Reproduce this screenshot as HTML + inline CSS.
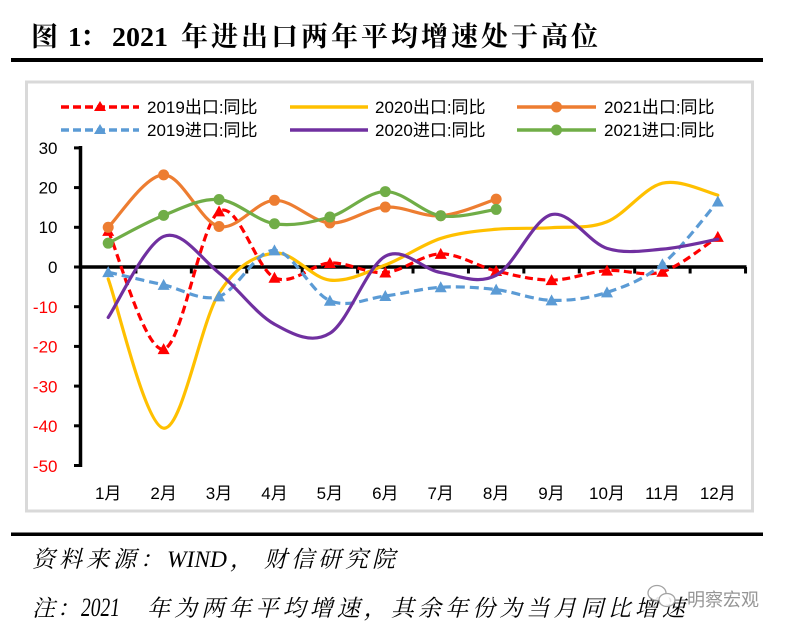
<!DOCTYPE html>
<html>
<head>
<meta charset="utf-8">
<style>
  html, body { margin:0; padding:0; background:#fff; }
  body { width:786px; height:633px; overflow:hidden; }
  svg { display:block; }
  .sans { font-family:"Liberation Sans","Noto Sans CJK SC",sans-serif; }
  .serif { font-family:"Liberation Serif","Noto Serif CJK SC",serif; }
</style>
</head>
<body>
<svg id="chart" width="786" height="633" viewBox="0 0 786 633" xmlns="http://www.w3.org/2000/svg">
  <rect x="0" y="0" width="786" height="633" fill="#fff"/>

  <!-- Title -->
  <g class="serif" font-weight="bold" font-size="27" fill="#000">
    <text x="31" y="46">图</text>
    <text x="68" y="46">1</text>
    <text x="80" y="46">：</text>
    <text x="112" y="46" textLength="56" lengthAdjust="spacingAndGlyphs">2021</text>
    <text x="181" y="46" letter-spacing="3">年进出口两年平均增速处于高位</text>
  </g>
  <rect x="11" y="58" width="752" height="4" fill="#000"/>

  <!-- chart frame -->
  <rect x="26.5" y="82" width="726" height="429" fill="#fff" stroke="#d9d9d9" stroke-width="3"/>

  <!-- Legend -->
  <g class="sans" font-size="17" fill="#000">
    <line x1="61" y1="107" x2="139" y2="107" stroke="#ff0000" stroke-width="3.5" stroke-dasharray="8 4"/>
    <polygon points="100,101 106,111 94,111" fill="#ff0000"/>
    <text x="147" y="113">2019出口:同比</text>
    <line x1="290" y1="107" x2="368" y2="107" stroke="#ffc000" stroke-width="3.5"/>
    <text x="375" y="113">2020出口:同比</text>
    <line x1="517" y1="107" x2="596" y2="107" stroke="#ed7d31" stroke-width="3.5"/>
    <circle cx="556.5" cy="107" r="5.5" fill="#ed7d31"/>
    <text x="604" y="113">2021出口:同比</text>

    <line x1="61" y1="130" x2="139" y2="130" stroke="#5b9bd5" stroke-width="3.5" stroke-dasharray="8 4"/>
    <polygon points="100,124 106,134 94,134" fill="#5b9bd5"/>
    <text x="147" y="136">2019进口:同比</text>
    <line x1="290" y1="130" x2="368" y2="130" stroke="#7030a0" stroke-width="3.5"/>
    <text x="375" y="136">2020进口:同比</text>
    <line x1="517" y1="130" x2="596" y2="130" stroke="#70ad47" stroke-width="3.5"/>
    <circle cx="556.5" cy="130" r="5.5" fill="#70ad47"/>
    <text x="604" y="136">2021进口:同比</text>
  </g>

  <!-- Y axis labels -->
  <g class="sans" font-size="17" text-anchor="end">
    <text x="57.5" y="154" fill="#000">30</text>
    <text x="57.5" y="193.5" fill="#000">20</text>
    <text x="57.5" y="233" fill="#000">10</text>
    <text x="57.5" y="273" fill="#000">0</text>
    <text x="57.5" y="313" fill="#ff0000">-10</text>
    <text x="57.5" y="352.5" fill="#ff0000">-20</text>
    <text x="57.5" y="392.5" fill="#ff0000">-30</text>
    <text x="57.5" y="432" fill="#ff0000">-40</text>
    <text x="57.5" y="472" fill="#ff0000">-50</text>
  </g>

  <!-- X axis labels -->
  <g class="sans" font-size="17" text-anchor="middle" fill="#000">
    <text x="108.2" y="499">1月</text>
    <text x="163.6" y="499">2月</text>
    <text x="219.0" y="499">3月</text>
    <text x="274.5" y="499">4月</text>
    <text x="329.9" y="499">5月</text>
    <text x="385.3" y="499">6月</text>
    <text x="440.7" y="499">7月</text>
    <text x="496.1" y="499">8月</text>
    <text x="551.5" y="499">9月</text>
    <text x="607.0" y="499">10月</text>
    <text x="662.4" y="499">11月</text>
    <text x="717.8" y="499">12月</text>
  </g>

  <!-- Axes -->
  <g id="axes" stroke="#000">
    <line x1="80.5" y1="146" x2="80.5" y2="467" stroke-width="3.5"/>
  </g>

  <g id="series"></g>

  <!-- Footer -->
  <rect x="11" y="532.5" width="752" height="3.5" fill="#000"/>
  <g class="serif" font-style="italic" font-size="23" fill="#000">
    <text x="32" y="567" letter-spacing="4">资料来源：</text>
    <text x="167" y="567" textLength="60" lengthAdjust="spacingAndGlyphs">WIND</text>
    <text x="230" y="567">，</text>
    <text x="264" y="567" letter-spacing="4">财信研究院</text>

    <text x="32" y="616" letter-spacing="2">注：</text>
    <text x="81" y="616" font-size="26" textLength="39" lengthAdjust="spacingAndGlyphs">2021</text>
    <text x="147" y="616" letter-spacing="4.1">年为两年平均增速，其余年份为当月同比增速</text>
  </g>

  <!-- Watermark -->
  <g opacity="0.9">
    <ellipse cx="657" cy="593" rx="9" ry="7.5" fill="#fff" stroke="#9a9a9a" stroke-width="1.3"/>
    <ellipse cx="667" cy="600" rx="8" ry="6.5" fill="#fff" stroke="#9a9a9a" stroke-width="1.3"/>
    <text class="sans" x="687" y="606" font-size="18" fill="#8a8a8a" stroke="#ffffff" stroke-width="0.6" paint-order="stroke">明察宏观</text>
  </g>
</svg>

<script>
(function(){
  var NS = "http://www.w3.org/2000/svg";
  var svg = document.getElementById('series');
  var axes = document.getElementById('axes');
  function cx(i){ return 80.5 + 55.42*(i+0.5); }
  function cy(v){ return 267 - v*3.97; }
  function el(tag, attrs, parent){
    var e = document.createElementNS(NS, tag);
    for (var k in attrs) e.setAttribute(k, attrs[k]);
    (parent||svg).appendChild(e);
    return e;
  }
  for (var v=30; v>=-50; v-=10){
    el('line',{x1:74,y1:cy(v),x2:80.5,y2:cy(v),'stroke-width':3},axes);
  }
  el('line',{x1:80.5,y1:267,x2:746.5,y2:267,'stroke-width':3.5},axes);
  for (var k=1;k<=12;k++){
    var x = 80.5 + 55.42*k;
    el('line',{x1:x,y1:267,x2:x,y2:273.5,'stroke-width':3},axes);
  }
  function path(vals){
    var p = vals.map(function(v,i){ return [cx(i), cy(v)]; });
    var d = 'M' + p[0][0].toFixed(2) + ',' + p[0][1].toFixed(2);
    for (var i=0;i<p.length-1;i++){
      var p0 = p[i-1]||p[i], p1=p[i], p2=p[i+1], p3=p[i+2]||p[i+1];
      var c1x = p1[0] + (p2[0]-p0[0])/6, c1y = p1[1] + (p2[1]-p0[1])/6;
      var c2x = p2[0] - (p3[0]-p1[0])/6, c2y = p2[1] - (p3[1]-p1[1])/6;
      d += ' C' + c1x.toFixed(2)+','+c1y.toFixed(2)+' '+c2x.toFixed(2)+','+c2y.toFixed(2)+' '+p2[0].toFixed(2)+','+p2[1].toFixed(2);
    }
    return d;
  }
  function tri(x,y,c){
    el('polygon',{points:(x)+','+(y-6)+' '+(x+6)+','+(y+5)+' '+(x-6)+','+(y+5),fill:c});
  }
  function series(vals,color,dash,marker){
    var a = {d:path(vals),fill:'none',stroke:color,'stroke-width':3.2,'stroke-linejoin':'round'};
    if (dash){ a['stroke-dasharray']=dash; } else { a['stroke-linecap']='round'; }
    el('path',a);
    if (marker==='tri') vals.forEach(function(v,i){ tri(cx(i),cy(v),color); });
    if (marker==='circ') vals.forEach(function(v,i){ el('circle',{cx:cx(i),cy:cy(v),r:5.5,fill:color}); });
  }
  var ex19=[9.1,-20.7,14.0,-2.7,1.0,-1.4,3.3,-1.0,-3.3,-0.9,-1.2,7.6];
  var ex20=[-3.0,-40.6,-6.6,3.5,-3.3,0.5,7.2,9.5,9.9,11.4,21.1,18.1];
  var ex21=[10.0,23.2,10.2,16.8,11.1,15.1,12.9,17.1];
  var im19=[-1.3,-4.5,-7.4,4.2,-8.5,-7.3,-5.1,-5.7,-8.4,-6.4,0.7,16.5];
  var im20=[-12.7,7.7,-1.5,-14.4,-16.7,2.7,-1.4,-2.1,13.2,4.7,4.5,7.0];
  var im21=[6.0,13.0,17.0,10.9,12.6,19.0,12.9,14.5];
  series(ex19,'#ff0000','8 4.5','tri');
  series(ex20,'#ffc000',null,null);
  series(ex21,'#ed7d31',null,'circ');
  series(im19,'#5b9bd5','9 5','tri');
  series(im20,'#7030a0',null,null);
  series(im21,'#70ad47',null,'circ');
})();
</script>
</body>
</html>
